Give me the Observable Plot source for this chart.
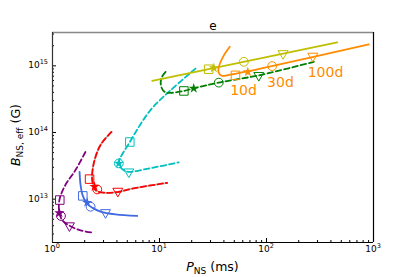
<!DOCTYPE html>
<html><head><meta charset="utf-8">
<script src="https://cdn.jsdelivr.net/npm/d3@7"></script>
<script src="https://cdn.jsdelivr.net/npm/@observablehq/plot@0.6"></script>
<style>body{margin:0;background:#fff}</style>
</head><body><div id="chart"></div>
<script>
// Track data (P in ms, B in G)
const purpleP = [2.03, 1.64, 1.32, 1.16, 1.16, 1.24, 1.44, 1.83, 2.35];
const purpleB = [5.1e13, 2.73e13, 1.63e13, 9.7e12, 6.2e12, 4.8e12, 4.0e12, 3.4e12, 3.16e12];
const blueP = [1.79, 1.83, 1.91, 2.08, 2.37, 2.81, 3.88, 6.19];
const blueB = [2.57e13, 1.62e13, 1.15e13, 8.7e12, 7.4e12, 6.5e12, 5.9e12, 5.6e12];
const redP = [3.56, 2.81, 2.43, 2.35, 2.52, 3.01, 4.05, 5.71, 11.8];
const redB = [1.02e14, 6.5e13, 3.44e13, 1.93e13, 1.37e13, 1.25e13, 1.28e13, 1.45e13, 1.76e13];
const cyanP = [21.7, 12.7, 8.24, 5.28, 4.17, 4.61, 5.17, 8.24, 15.1];
const cyanB = [9.1e14, 4.3e14, 2.17e14, 7.2e13, 3.44e13, 2.73e13, 2.57e13, 2.92e13, 3.56e13];
const greenP = [11.4, 10.4, 10.4, 11.4, 16.9, 20.9, 35.8, 84.7, 277];
const greenB = [8.1e14, 6.5e14, 4.8e14, 4.0e14, 4.2e14, 4.6e14, 5.6e14, 7.2e14, 1.15e15];
const oliveP = [8.55, 458];
const oliveB = [5.96e14, 2.24e15];
const orangeP = [45.4, 39.6, 36.0, 35.6, 38.0, 46.1, 87.9, 904];
const orangeB = [1.93e15, 1.4e15, 9.9e14, 8.0e14, 7.1e14, 7.4e14, 9.1e14, 2.09e15];

// Series order: purple, blue, red, cyan, green, olive, orange
const colors = ["#800080", "#4169e1", "#ff0000", "#00bfbf", "#008000", "#bfbf00", "#ff8c00"];
const squareP = [1.17, 1.92, 2.22, 5.28, 16.9, 28.8, 51.3];
const squareB = [9.7e12, 1.12e13, 2.0e13, 7.2e13, 4.2e14, 8.9e14, 7.2e14];
const starP = [1.16, 2.11, 2.47, 4.17, 20.9, 32.2, 66.9];
const starB = [6.2e12, 8.9e12, 1.54e13, 3.44e13, 4.6e14, 9.3e14, 8.1e14];
const circleP = [1.2, 2.27, 2.62, 4.17, 35.8, 61.4, 113];
const circleB = [5.6e12, 7.7e12, 1.4e13, 3.44e13, 5.6e14, 1.15e15, 9.9e14];
const triP = [1.44, 3.13, 4.08, 5.17, 84.7, 143, 271];
const triB = [4.0e12, 6.3e12, 1.32e13, 2.57e13, 7.2e14, 1.53e15, 1.4e15];

const dayLabels = ["10d", "30d", "100d"];
const dayP = [61, 135, 356];
const dayB = [4.33e14, 5.6e14, 7.96e14];

const xTicks = [1, 10, 100, 1000];
const yTicks = [1e13, 1e14, 1e15];

const W = 415, H = 277, mL = 52, mR = 42, mT = 32, mB = 35;
const fw = W - mL - mR, fh = H - mT - mB;
const yDomain = [10 ** 12.35, 10 ** 15.5];
const xDomain = [1, 1000];

const minorX = [];
for (const d of [1, 10, 100]) for (let k = 2; k <= 9; k++) minorX.push(d * k);
const minorY = [];
for (const d of [1e12, 1e13, 1e14, 1e15]) for (let k = 2; k <= 9; k++) {
  const v = d * k; if (v > yDomain[0] && v < yDomain[1]) minorY.push(v);
}

function track(P, B, color, dashed) {
  return Plot.line(d3.zip(P, B), {x: d => d[0], y: d => d[1], stroke: color, strokeWidth: 1.8,
    strokeDasharray: dashed ? "5.5,3" : null, curve: "catmull-rom"});
}
function pts(P, B) { return P.map((p, i) => ({p, b: B[i], c: colors[i]})); }

const chart = Plot.plot({
  width: W, height: H, marginLeft: mL, marginRight: mR, marginTop: mT, marginBottom: mB,
  x: {type: "log", domain: xDomain, axis: null},
  y: {type: "log", domain: yDomain, axis: null},
  style: {fontFamily: "DejaVu Sans", background: "white"},
  marks: [
    Plot.tickX(xTicks, {x: d => d, insetTop: fh - 4, stroke: "#000"}),
    Plot.tickX(minorX, {x: d => d, insetTop: fh - 2, stroke: "#000"}),
    Plot.tickY(yTicks, {y: d => d, insetRight: fw - 4, stroke: "#000"}),
    Plot.tickY(minorY, {y: d => d, insetRight: fw - 2, stroke: "#000"}),
    track(purpleP, purpleB, colors[0], true),
    track(blueP, blueB, colors[1], false),
    Plot.line(d3.zip(redP, redB), {x: d => d[0], y: d => d[1], stroke: "#bbbbbb", strokeWidth: 1.8, curve: "catmull-rom"}),
    track(redP, redB, colors[2], true),
    track(cyanP, cyanB, colors[3], true),
    track(greenP, greenB, colors[4], true),
    track(oliveP, oliveB, colors[5], false),
    track(orangeP, orangeB, colors[6], false),
    Plot.dot(pts(squareP, squareB), {x: "p", y: "b", stroke: "c", symbol: "square", r: 4.8, strokeWidth: 1, fill: "none"}),
    Plot.dot(pts(circleP, circleB), {x: "p", y: "b", stroke: "c", symbol: "circle", r: 4.4, strokeWidth: 1, fill: "none"}),
    Plot.dot(pts(triP, triB), {x: "p", y: "b", stroke: "c", symbol: "triangle", r: 3.7, rotate: 180, strokeWidth: 1, fill: "none"}),
    Plot.dot(pts(starP, starB), {x: "p", y: "b", fill: "c", symbol: "star", r: 3.2, stroke: "none"}),
    Plot.text(dayLabels, {x: (d, i) => dayP[i], y: (d, i) => dayB[i], text: d => d, fill: colors[6], fontSize: 14}),
    Plot.ruleY([yDomain[1]], {stroke: "#888", strokeWidth: 1.5}),
    Plot.ruleX([xDomain[0]], {stroke: "#333", strokeWidth: 1.2}),
    Plot.ruleY([yDomain[0]], {stroke: "#000", strokeWidth: 1.2}),
    Plot.ruleX([xDomain[1]], {stroke: "#000", strokeWidth: 1.2}),
    Plot.text(["e"], {frameAnchor: "top", dy: -11, fontSize: 12, fill: "#000"})
  ]
});
document.getElementById("chart").appendChild(chart);

// Tick labels with superscripts, placed with the plot's own scales
const sx = chart.scale("x"), sy = chart.scale("y");
const svg = d3.select(chart);
const g = svg.append("g").attr("font-family", "DejaVu Sans").attr("fill", "#000");
xTicks.forEach(v => {
  const t = g.append("text").attr("x", sx.apply(v)).attr("y", H - mB + 10).attr("text-anchor", "middle").attr("font-size", 9);
  t.append("tspan").text("10");
  t.append("tspan").attr("font-size", 6.5).attr("dy", -4).text(String(Math.round(Math.log10(v))));
});
yTicks.forEach(v => {
  const t = g.append("text").attr("x", mL - 4).attr("y", sy.apply(v) + 3).attr("text-anchor", "end").attr("font-size", 9);
  t.append("tspan").text("10");
  t.append("tspan").attr("font-size", 6.5).attr("dy", -4).text(String(Math.round(Math.log10(v))));
});
const xl = g.append("text").attr("x", mL + fw / 2).attr("y", H - 6).attr("text-anchor", "middle").attr("font-size", 12.5);
xl.append("tspan").attr("font-style", "italic").text("P");
xl.append("tspan").attr("font-size", 9).attr("dy", 3).text("NS");
xl.append("tspan").attr("dy", -3).text(" (ms)");
const yl = g.append("text").attr("transform", `translate(20,${mT + fh / 2 - 2}) rotate(-90)`).attr("text-anchor", "middle").attr("font-size", 12.5);
yl.append("tspan").attr("font-style", "italic").text("B");
yl.append("tspan").attr("font-size", 9).attr("dy", 3).text("NS, eff");
yl.append("tspan").attr("dy", -3).text(" (G)");
</script>
</body></html>
